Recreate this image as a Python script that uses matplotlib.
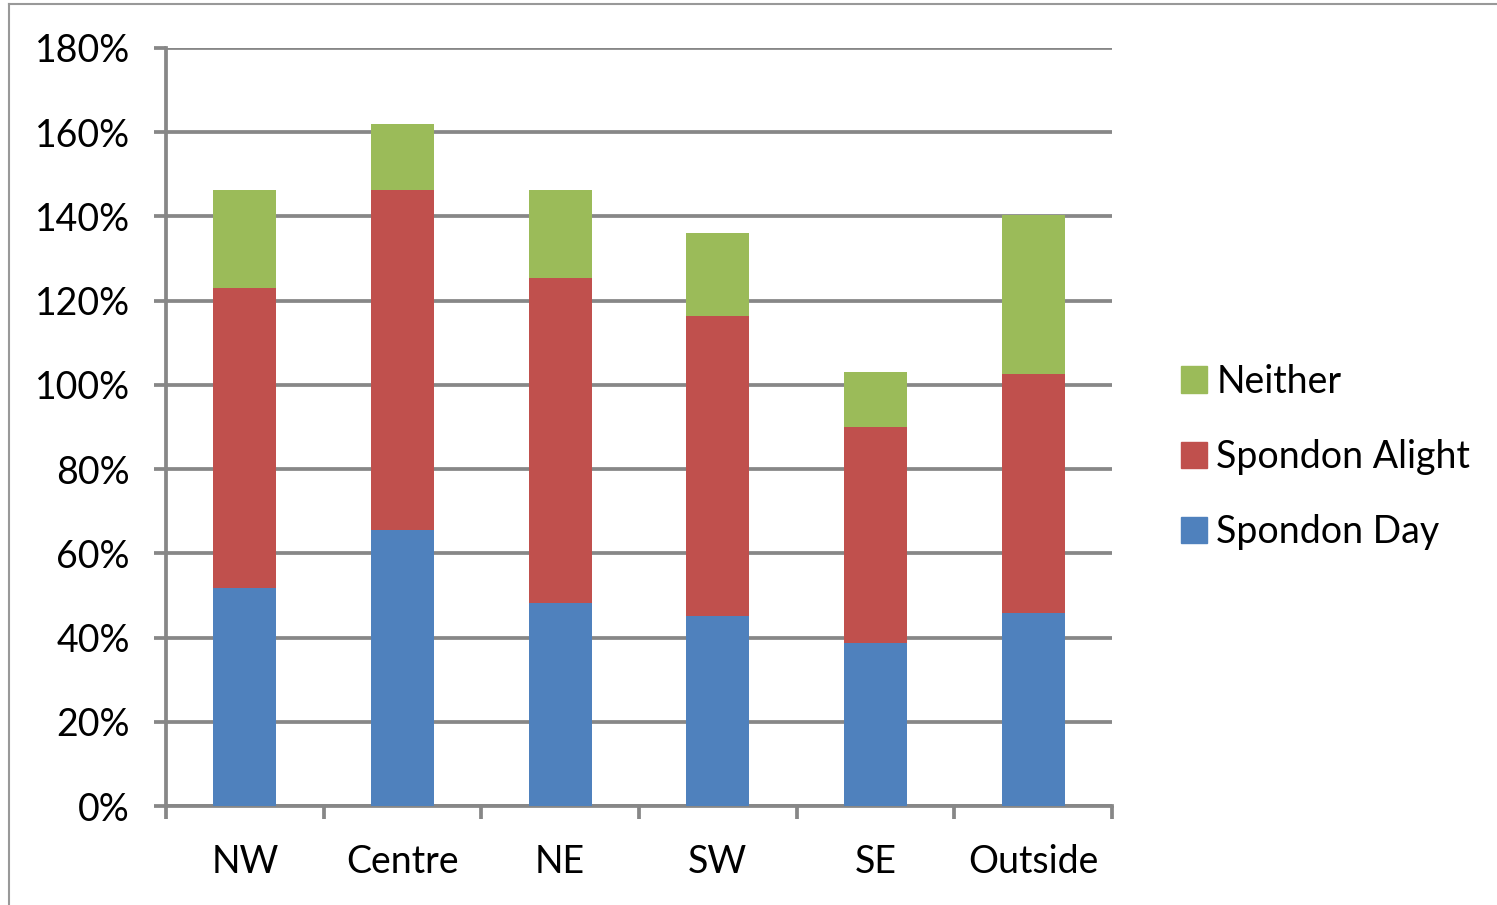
import matplotlib.pyplot as plt
import matplotlib.patches as mpatches
from matplotlib.lines import Line2D
import numpy as np

categories = ["NW", "Centre", "NE", "SW", "SE", "Outside"]
spondon_day = [51.8, 65.5, 48.2, 45.1, 38.7, 45.8]
spondon_alight = [71.2, 80.8, 77.2, 71.3, 51.3, 56.8]
neither = [23.3, 15.7, 20.9, 19.6, 13.0, 37.7]

blue = "#4F81BD"
red = "#C0504D"
green = "#9BBB59"
gray = "#878787"

plt.rcParams["font.family"] = ["Lato", "DejaVu Sans"]

fig = plt.figure(figsize=(14.97, 9.05), dpi=100)
ax = fig.add_axes([166/1497, 1-806/905, (1112-166)/1497, (806-48)/905])

x = np.arange(len(categories))
w = 0.4
day = np.array(spondon_day)
alight = np.array(spondon_alight)
nei = np.array(neither)
ax.bar(x, day, w, color=blue, zorder=3)
ax.bar(x, alight, w, bottom=day, color=red, zorder=3)
ax.bar(x, nei, w, bottom=day+alight, color=green, zorder=3)

ax.set_xlim(-0.5, len(categories)-0.5)
ax.set_ylim(0, 180)
ax.set_yticks(np.arange(0, 181, 20))
ax.set_yticklabels([f"{v}%" for v in range(0, 181, 20)], fontsize=27)
ax.yaxis.grid(True, color=gray, linewidth=2.7, zorder=0)
ax.tick_params(axis="y", length=9, width=2.7, color=gray, pad=17)

ax.set_xticks(np.arange(-0.5, len(categories), 1))
ax.set_xticklabels([])
ax.tick_params(axis="x", length=9, width=2.7, color=gray)
for i, c in enumerate(categories):
    ax.text(i, -9, c, ha="center", va="top", fontsize=27, transform=ax.transData)

for s in ["top", "right"]:
    ax.spines[s].set_visible(False)
for s in ["left", "bottom"]:
    ax.spines[s].set_color(gray)
    ax.spines[s].set_linewidth(2.7)

handles = [mpatches.Patch(color=green, label="Neither"),
           mpatches.Patch(color=red, label="Spondon Alight"),
           mpatches.Patch(color=blue, label="Spondon Day")]
fig.legend(handles=handles, loc="center left", bbox_to_anchor=(1147/1497, 1-457/905),
           frameon=False, fontsize=27, handlelength=0.7, handleheight=0.7,
           handletextpad=0.25, labelspacing=1.05)

# outer frame
fig.add_artist(Line2D([9/1497, 9/1497], [0, 1-4/905], color="#999999", linewidth=1.5, transform=fig.transFigure))
fig.add_artist(Line2D([9/1497, 1], [1-4/905, 1-4/905], color="#999999", linewidth=1.5, transform=fig.transFigure))

fig.savefig("out.png", dpi=100)
